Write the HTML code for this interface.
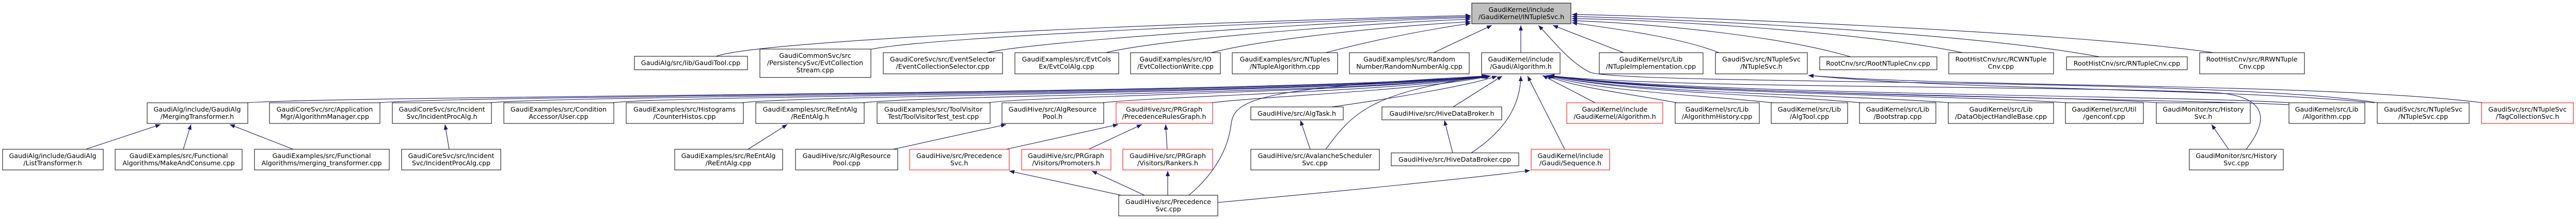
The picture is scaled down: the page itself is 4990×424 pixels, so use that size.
<!DOCTYPE html>
<html><head><meta charset="utf-8"><style>
html,body{margin:0;padding:0;background:#fff;}
svg{display:block;}
text{font-family:"DejaVu Sans","Liberation Sans",sans-serif;font-size:12.67px;fill:#000;text-anchor:middle;}
.e{fill:none;stroke:#191970;stroke-width:1.1;marker-end:url(#a);}
.n{fill:#fff;stroke:#000;stroke-width:1;}
.r{fill:#fff;stroke:#ff0000;stroke-width:1;}
</style></head><body>
<svg width="4990" height="424" viewBox="0 0 4990 424" xmlns="http://www.w3.org/2000/svg">
<defs><marker id="a" viewBox="0 0 10 8" refX="10" refY="4" markerWidth="10" markerHeight="8" markerUnits="userSpaceOnUse" orient="auto"><path d="M0,0 L10,4 L0,8 z" fill="#191970"/></marker></defs>

<!-- edges to root -->
<path class="e" d="M1387,109 C1500,70 2600,35 2849,30"/>
<path class="e" d="M1685,96 C1800,70 2600,38 2849,32"/>
<path class="e" d="M1912,102 C2000,80 2600,40 2849,34"/>
<path class="e" d="M2142,102 C2250,75 2650,45 2849,37"/>
<path class="e" d="M2346,102 C2450,75 2700,50 2849,42"/>
<path class="e" d="M2568,102 C2650,80 2750,60 2849,45"/>
<path class="e" d="M2777,102 L2890,49"/>
<path class="e" d="M2946,102 L2946,49"/>
<path class="e" d="M3145,102 L3008,49"/>
<path class="e" d="M3330,102 C3250,70 3100,52 3045,44"/>
<path class="e" d="M3585,110 C3450,70 3200,45 3045,40"/>
<path class="e" d="M3802,102 C3600,60 3200,38 3045,36"/>
<path class="e" d="M4067,110 C3800,60 3200,35 3045,32"/>
<path class="e" d="M4288,102 C4000,60 3200,30 3045,28"/>
<path class="e" d="M4607,199 C4300,150 3150,165 3080,140 C3040,120 3010,80 2980,49"/>
<path class="e" d="M4809,199 C4500,160 3800,170 3503,146"/>
<path class="e" d="M4600,199 C4300,170 3800,175 3503,146"/>

<!-- row2 to Gaudi/Algorithm.h -->
<path class="e" d="M477,199 C700,184 2500,183 2880,147"/>
<path class="e" d="M733,199 C900,184 2500,182 2881,147"/>
<path class="e" d="M949,199 C1100,184 2550,182 2882,147"/>
<path class="e" d="M1186,199 C1300,184 2600,182 2883,147"/>
<path class="e" d="M1437,199 C1550,184 2600,181 2884,147"/>
<path class="e" d="M1671,199 C1800,184 2650,181 2885,147"/>
<path class="e" d="M1915,199 C2000,185 2650,180 2886,147"/>
<path class="e" d="M2135,199 C2250,186 2700,178 2887,147"/>
<path class="e" d="M2346,199 C2450,186 2750,176 2888,147"/>
<path class="e" d="M2580,207 C2700,190 2850,165 2900,147"/>
<path class="e" d="M2815,207 L2910,147"/>
<path class="e" d="M3090,199 L2988,146"/>
<path class="e" d="M3248,199 C3150,180 3050,170 2995,146"/>
<path class="e" d="M3434,199 C3300,184 3100,178 2997,146"/>
<path class="e" d="M3605,199 C3450,184 3150,180 2998,146"/>
<path class="e" d="M3777,199 C3600,184 3150,181 2999,146"/>
<path class="e" d="M4004,199 C3800,184 3200,182 3000,146"/>
<path class="e" d="M4180,199 C4000,184 3200,183 3000,146"/>
<path class="e" d="M4437,199 C4200,184 3250,183 3001,146"/>
<path class="e" d="M4437,203 C4200,190 3250,186 3001,146"/>

<!-- row3 edges -->
<path class="e" d="M166,289 L311,241"/>
<path class="e" d="M355,289 L370,241"/>
<path class="e" d="M568,289 L445,241"/>
<path class="e" d="M870,289 L862,241"/>
<path class="e" d="M1449,289 L1525,241"/>
<path class="e" d="M1730,289 L1949,241"/>
<path class="e" d="M1949,289 L2166,241"/>
<path class="e" d="M2109,289 L2212,241"/>
<path class="e" d="M2261,289 L2258,241"/>
<path class="e" d="M2538,289 L2519,233"/>
<path class="e" d="M2568,289 C2620,220 2650,180 2880,147"/>
<path class="e" d="M2814,296 L2798,233"/>
<path class="e" d="M2850,296 C2920,250 2945,200 2946,147"/>
<path class="e" d="M3031,289 L2959,147"/>
<path class="e" d="M4317,289 L4284,241"/>
<path class="e" d="M4351,289 C4390,240 4400,190 4300,180 C4000,165 3200,172 3000,146"/>
<!-- row4 edges -->
<path class="e" d="M2172,378 L1955,331"/>
<path class="e" d="M2217,378 L2115,331"/>
<path class="e" d="M2262,378 L2262,331"/>
<path class="e" d="M2303,378 C2360,330 2380,280 2385,240 C2390,190 2450,170 2880,147"/>
<path class="e" d="M2359,392 C2600,370 2850,345 2964,330"/>

<!-- root -->
<rect x="2851" y="6" width="192" height="40" fill="#bfbfbf" stroke="#000"/>
<text x="2947" y="23">GaudiKernel/include</text><text x="2947" y="37">/GaudiKernel/INTupleSvc.h</text>

<!-- row1 -->
<rect class="n" x="1229" y="109" width="219" height="26"/><text x="1338" y="126">GaudiAlg/src/lib/GaudiTool.cpp</text>
<rect class="n" x="1472" y="95" width="215" height="55"/><text x="1579" y="112">GaudiCommonSvc/src</text><text x="1579" y="126">/PersistencySvc/EvtCollection</text><text x="1579" y="140">Stream.cpp</text>
<rect class="n" x="1711" y="102" width="231" height="41"/><text x="1826" y="119">GaudiCoreSvc/src/EventSelector</text><text x="1826" y="133">/EventCollectionSelector.cpp</text>
<rect class="n" x="1966" y="102" width="201" height="41"/><text x="2066" y="119">GaudiExamples/src/EvtCols</text><text x="2066" y="133">Ex/EvtColAlg.cpp</text>
<rect class="n" x="2190" y="102" width="174" height="41"/><text x="2277" y="119">GaudiExamples/src/IO</text><text x="2277" y="133">/EvtCollectionWrite.cpp</text>
<rect class="n" x="2387" y="102" width="204" height="41"/><text x="2489" y="119">GaudiExamples/src/NTuples</text><text x="2489" y="133">/NTupleAlgorithm.cpp</text>
<rect class="n" x="2614" y="102" width="232" height="41"/><text x="2730" y="119">GaudiExamples/src/Random</text><text x="2730" y="133">Number/RandomNumberAlg.cpp</text>
<rect class="n" x="2870" y="102" width="152" height="41"/><text x="2946" y="119">GaudiKernel/include</text><text x="2946" y="133">/Gaudi/Algorithm.h</text>
<rect class="n" x="3098" y="102" width="201" height="41"/><text x="3198" y="119">GaudiKernel/src/Lib</text><text x="3198" y="133">/NTupleImplementation.cpp</text>
<rect class="n" x="3323" y="102" width="178" height="41"/><text x="3412" y="119">GaudiSvc/src/NTupleSvc</text><text x="3412" y="133">/NTupleSvc.h</text>
<rect class="n" x="3525" y="110" width="227" height="25"/><text x="3638" y="127">RootCnv/src/RootNTupleCnv.cpp</text>
<rect class="n" x="3775" y="102" width="203" height="41"/><text x="3876" y="119">RootHistCnv/src/RCWNTuple</text><text x="3876" y="133">Cnv.cpp</text>
<rect class="n" x="4003" y="110" width="234" height="25"/><text x="4120" y="127">RootHistCnv/src/RNTupleCnv.cpp</text>
<rect class="n" x="4261" y="102" width="203" height="41"/><text x="4362" y="119">RootHistCnv/src/RRWNTuple</text><text x="4362" y="133">Cnv.cpp</text>

<!-- row2 -->
<rect class="n" x="285" y="199" width="195" height="40"/><text x="382" y="216">GaudiAlg/include/GaudiAlg</text><text x="382" y="230">/MergingTransformer.h</text>
<rect class="n" x="522" y="199" width="214" height="40"/><text x="629" y="216">GaudiCoreSvc/src/Application</text><text x="629" y="230">Mgr/AlgorithmManager.cpp</text>
<rect class="n" x="760" y="199" width="192" height="40"/><text x="856" y="216">GaudiCoreSvc/src/Incident</text><text x="856" y="230">Svc/IncidentProcAlg.h</text>
<rect class="n" x="976" y="199" width="213" height="40"/><text x="1082" y="216">GaudiExamples/src/Condition</text><text x="1082" y="230">Accessor/User.cpp</text>
<rect class="n" x="1213" y="199" width="227" height="40"/><text x="1326" y="216">GaudiExamples/src/Histograms</text><text x="1326" y="230">/CounterHistos.cpp</text>
<rect class="n" x="1464" y="199" width="210" height="40"/><text x="1569" y="216">GaudiExamples/src/ReEntAlg</text><text x="1569" y="230">/ReEntAlg.h</text>
<rect class="n" x="1699" y="199" width="219" height="40"/><text x="1808" y="216">GaudiExamples/src/ToolVisitor</text><text x="1808" y="230">Test/ToolVisitorTest_test.cpp</text>
<rect class="n" x="1941" y="199" width="197" height="40"/><text x="2039" y="216">GaudiHive/src/AlgResource</text><text x="2039" y="230">Pool.h</text>
<rect class="r" x="2162" y="199" width="187" height="40"/><text x="2255" y="216">GaudiHive/src/PRGraph</text><text x="2255" y="230">/PrecedenceRulesGraph.h</text>
<rect class="n" x="2423" y="207" width="179" height="25"/><text x="2512" y="224">GaudiHive/src/AlgTask.h</text>
<rect class="n" x="2677" y="207" width="232" height="25"/><text x="2793" y="224">GaudiHive/src/HiveDataBroker.h</text>
<rect class="r" x="3035" y="199" width="186" height="40"/><text x="3128" y="216">GaudiKernel/include</text><text x="3128" y="230">/GaudiKernel/Algorithm.h</text>
<rect class="n" x="3245" y="199" width="163" height="40"/><text x="3326" y="216">GaudiKernel/src/Lib</text><text x="3326" y="230">/AlgorithmHistory.cpp</text>
<rect class="n" x="3431" y="199" width="148" height="40"/><text x="3505" y="216">GaudiKernel/src/Lib</text><text x="3505" y="230">/AlgTool.cpp</text>
<rect class="n" x="3602" y="199" width="148" height="40"/><text x="3676" y="216">GaudiKernel/src/Lib</text><text x="3676" y="230">/Bootstrap.cpp</text>
<rect class="n" x="3774" y="199" width="204" height="40"/><text x="3876" y="216">GaudiKernel/src/Lib</text><text x="3876" y="230">/DataObjectHandleBase.cpp</text>
<rect class="n" x="4001" y="199" width="151" height="40"/><text x="4076" y="216">GaudiKernel/src/Util</text><text x="4076" y="230">/genconf.cpp</text>
<rect class="n" x="4177" y="199" width="182" height="40"/><text x="4268" y="216">GaudiMonitor/src/History</text><text x="4268" y="230">Svc.h</text>
<rect class="n" x="4434" y="199" width="147" height="40"/><text x="4507" y="216">GaudiKernel/src/Lib</text><text x="4507" y="230">/Algorithm.cpp</text>
<rect class="n" x="4605" y="199" width="178" height="40"/><text x="4694" y="216">GaudiSvc/src/NTupleSvc</text><text x="4694" y="230">/NTupleSvc.cpp</text>
<rect class="r" x="4807" y="199" width="178" height="40"/><text x="4896" y="216">GaudiSvc/src/NTupleSvc</text><text x="4896" y="230">/TagCollectionSvc.h</text>

<!-- row3 -->
<rect class="n" x="5" y="289" width="195" height="40"/><text x="102" y="306">GaudiAlg/include/GaudiAlg</text><text x="102" y="320">/ListTransformer.h</text>
<rect class="n" x="223" y="289" width="246" height="40"/><text x="346" y="306">GaudiExamples/src/Functional</text><text x="346" y="320">Algorithms/MakeAndConsume.cpp</text>
<rect class="n" x="493" y="289" width="261" height="40"/><text x="623" y="306">GaudiExamples/src/Functional</text><text x="623" y="320">Algorithms/merging_transformer.cpp</text>
<rect class="n" x="778" y="289" width="192" height="40"/><text x="874" y="306">GaudiCoreSvc/src/Incident</text><text x="874" y="320">Svc/IncidentProcAlg.cpp</text>
<rect class="n" x="1307" y="289" width="209" height="40"/><text x="1411" y="306">GaudiExamples/src/ReEntAlg</text><text x="1411" y="320">/ReEntAlg.cpp</text>
<rect class="n" x="1541" y="289" width="198" height="40"/><text x="1640" y="306">GaudiHive/src/AlgResource</text><text x="1640" y="320">Pool.cpp</text>
<rect class="r" x="1762" y="289" width="193" height="40"/><text x="1858" y="306">GaudiHive/src/Precedence</text><text x="1858" y="320">Svc.h</text>
<rect class="r" x="1979" y="289" width="173" height="40"/><text x="2065" y="306">GaudiHive/src/PRGraph</text><text x="2065" y="320">/Visitors/Promoters.h</text>
<rect class="r" x="2175" y="289" width="174" height="40"/><text x="2262" y="306">GaudiHive/src/PRGraph</text><text x="2262" y="320">/Visitors/Rankers.h</text>
<rect class="n" x="2423" y="289" width="249" height="40"/><text x="2547" y="306">GaudiHive/src/AvalancheScheduler</text><text x="2547" y="320">Svc.cpp</text>
<rect class="n" x="2695" y="296" width="247" height="25"/><text x="2818" y="313">GaudiHive/src/HiveDataBroker.cpp</text>
<rect class="r" x="2966" y="289" width="152" height="40"/><text x="3042" y="306">GaudiKernel/include</text><text x="3042" y="320">/Gaudi/Sequence.h</text>
<rect class="n" x="4241" y="289" width="182" height="40"/><text x="4332" y="306">GaudiMonitor/src/History</text><text x="4332" y="320">Svc.cpp</text>

<!-- row4 -->
<rect class="n" x="2167" y="378" width="192" height="40"/><text x="2263" y="395">GaudiHive/src/Precedence</text><text x="2263" y="409">Svc.cpp</text>
</svg>
</body></html>
